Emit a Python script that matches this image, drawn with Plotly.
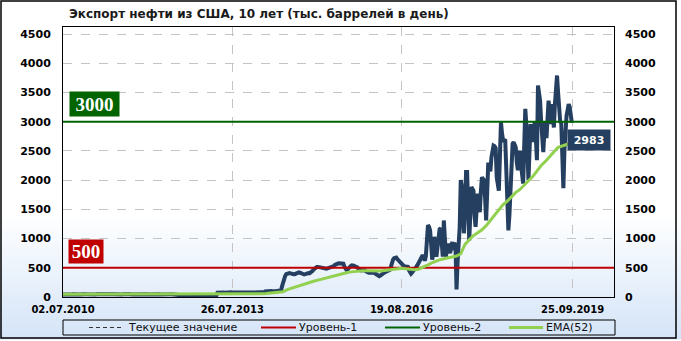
import pandas as pd
import plotly.graph_objects as go

# ---------------- data ----------------
start_date = "2010-07-02"
axis_end_date = "2020-06-25"

exports_2010 = [44, 46, 43, 47, 45, 42, 48, 46, 44, 45, 47, 43, 46, 49, 45, 44, 42, 46, 48, 45,
                43, 47, 46, 44, 45, 48, 46]
exports_2011 = [46, 44, 47, 45, 43, 49, 46, 45, 48, 44, 42, 46, 47, 45, 50, 46, 44, 43, 47, 48,
                45, 46, 44, 49, 47, 45, 43, 46, 48, 44, 45, 47, 46, 43, 45, 48, 50, 46, 44, 45,
                47, 43, 46, 49, 45, 44, 46, 48, 45, 43, 47, 46]
exports_2012 = [45, 48, 44, 46, 47, 43, 45, 49, 46, 44, 45, 47, 48, 44, 46, 45, 43, 47, 46, 48,
                45, 44, 46, 47, 45, 43, 48, 46, 44, 27, 24, 22, 26, 23, 21, 25, 28, 24, 22, 20,
                26, 27, 23, 22, 25, 24, 21, 26, 28, 23, 22, 24]
exports_2013 = [25, 27, 24, 22, 26, 23, 21, 25, 27, 24, 22, 25, 28, 23, 24, 75, 78, 80, 76, 79,
                82, 77, 74, 78, 81, 79, 76, 80, 83, 78, 75, 77, 80, 82, 79, 76, 78, 81, 77, 80,
                84, 79, 76, 78, 82, 80, 77, 79, 83, 78, 76, 80]
exports_2014 = [81, 78, 79, 82, 80, 77, 79, 81, 95, 98, 102, 100, 97, 103, 101, 99, 104, 100, 98, 102,
                105, 101, 99, 103, 180, 260, 320, 360, 390, 400, 405, 410, 405, 395, 385, 390, 390, 400, 410, 420,
                420, 415, 405, 395, 385, 385, 390, 400, 410, 410, 405, 415]
exports_2015 = [430, 450, 470, 490, 510, 515, 515, 510, 505, 500, 495, 490, 490, 490, 485, 490, 495, 495, 500, 505,
                515, 530, 550, 565, 575, 575, 578, 575, 572, 575, 570, 520, 480, 465, 470, 500, 520, 530, 540, 545,
                535, 525, 520, 510, 490, 465, 460, 455, 460, 465, 460, 445]
exports_2016 = [430, 420, 415, 415, 420, 425, 420, 415, 400, 385, 370, 360, 355, 365, 385, 400, 410, 420, 430, 440,
                450, 455, 465, 520, 600, 640, 665, 680, 675, 650, 630, 625, 600, 575, 545, 520, 515, 520, 525, 515,
                460, 410, 400, 420, 440, 460, 490, 515, 545, 580, 600, 650, 700]
exports_2017 = [715, 680, 620, 700, 900, 1230, 1200, 1140, 900, 640, 750, 1030, 900, 690, 850, 1140, 1160, 1175, 900, 690,
                1310, 1000, 690, 850, 915, 800, 750, 880, 940, 800, 915, 900, 130, 600, 850, 1200, 2000, 1900, 1700, 1090,
                1500, 2140, 2140, 1600, 970, 1400, 1880, 1850, 1820, 1400, 1200, 1500]
exports_2018 = [1770, 1600, 1450, 1800, 2050, 2020, 2000, 1700, 1310, 1800, 2300, 2200, 2150, 2390, 2500, 2590, 2580, 2550, 2050, 1900,
                1820, 2400, 2990, 2800, 2680, 2680, 2700, 2200, 1800, 1140, 1400, 1800, 2300, 2620, 2650, 2600, 2560, 2300, 2170, 2400,
                2500, 2250, 2100, 1940, 2600, 3220, 2950, 2400, 2000, 2500, 2960, 2800]
exports_2019 = [2650, 2850, 3000, 2700, 2340, 3620, 3450, 3360, 3000, 2680, 2480, 2800, 3000, 2720, 3000, 3360, 3200, 2960, 3300, 3100,
                2900, 3300, 3500, 3790, 3500, 3190, 3000, 2980, 2400, 1860, 2500, 2970, 3100, 3200, 3300, 3250, 3100, 2983]

# EMA(52) as drawn in the reference, read every 4th week
ema_52 = [45, 45, 44, 45, 46, 45, 45, 44, 45, 46, 45, 45, 44, 45, 46, 45, 45, 44, 45, 45,
          46, 45, 45, 44, 45, 45, 46,
          45, 45, 44, 45, 45, 44, 45, 45, 44, 45,
          46, 46, 47, 47, 48, 49, 50, 51, 52, 54,
          56, 60, 66, 72, 80, 90, 125, 150, 175, 200,
          225, 245, 265, 285, 305, 325, 340, 355, 375, 395,
          415, 430, 440, 445, 448, 450, 448, 445, 445, 455,
          465, 480, 490, 490, 485, 470, 465, 475, 505, 540,
          580, 610, 635, 655, 670, 685, 700, 740, 900, 980,
          1050, 1100, 1150, 1220, 1310, 1410, 1500, 1580, 1640, 1720,
          1790, 1840, 1920, 1990, 2060, 2160, 2250, 2320, 2410, 2480,
          2560, 2590, 2610, 2625]

level_1 = 500
level_2 = 3000
x_tick_labels = ["02.07.2010", "26.07.2013", "19.08.2016", "25.09.2019"]
y_ticks = [0, 500, 1000, 1500, 2000, 2500, 3000, 3500, 4000, 4500]
y_max = 4620

title_text = "Экспорт нефти из США, 10 лет (тыс. баррелей в день)"
legend_names = ["Текущее значение", "Уровень-1", "Уровень-2", "EMA(52)"]

# ---------------- colours / styles ----------------
c_value = "#243f60"
c_lvl1 = "#c00000"
c_lvl2 = "#006400"
c_ema = "#92d050"
grid_c = "#c4c4c4"

values = (exports_2010 + exports_2011 + exports_2012 + exports_2013 + exports_2014 +
          exports_2015 + exports_2016 + exports_2017 + exports_2018 + exports_2019)
dates = pd.date_range(start_date, periods=len(values), freq="7D")
ema_dates = dates[::4][:len(ema_52)]
tick_dates = pd.to_datetime(x_tick_labels, format="%d.%m.%Y")

W, H = 681, 341
PL, PR, PT, PB = 63, 614, 27, 297  # plot area in pixels


def fx(px):
    return (px - PL) / (PR - PL)


def fy(py):
    return (PB - py) / (PB - PT)


fig = go.Figure()

fig.add_trace(go.Scatter(x=dates, y=values, mode="lines",
                         line=dict(color=c_value, width=4), showlegend=False,
                         name=legend_names[0]))
fig.add_trace(go.Scatter(x=[start_date, axis_end_date], y=[level_1, level_1], mode="lines",
                         line=dict(color=c_lvl1, width=2), showlegend=False, name=legend_names[1]))
fig.add_trace(go.Scatter(x=[start_date, axis_end_date], y=[level_2, level_2], mode="lines",
                         line=dict(color=c_lvl2, width=2), showlegend=False, name=legend_names[2]))
fig.add_trace(go.Scatter(x=ema_dates, y=ema_52, mode="lines", yaxis="y2",
                         line=dict(color=c_ema, width=3), showlegend=False, name=legend_names[3]))

shapes = []
# background gradient (white -> light blue towards the bottom)
top_c = (255, 255, 255)
bot_c = (212, 228, 247)
g0, g1 = 215, 339
n = 40
for i in range(n):
    t = (i + 0.5) / n
    col = tuple(int(round(top_c[k] + (bot_c[k] - top_c[k]) * t)) for k in range(3))
    y_top = g0 + (g1 - g0) * i / n
    y_bot = g0 + (g1 - g0) * (i + 1) / n + 0.6
    shapes.append(dict(type="rect", xref="paper", yref="paper", layer="below",
                       x0=fx(0), x1=fx(W), y0=fy(y_bot), y1=fy(y_top),
                       line=dict(width=0), fillcolor="rgb(%d,%d,%d)" % col))
# outer frame
shapes.append(dict(type="rect", xref="paper", yref="paper", layer="above",
                   x0=fx(1), x1=fx(676), y0=fy(338), y1=fy(1),
                   line=dict(color="black", width=1.5)))
# legend box
shapes.append(dict(type="rect", xref="paper", yref="paper", layer="above",
                   x0=fx(63), x1=fx(615), y0=fy(335), y1=fy(320),
                   line=dict(color="black", width=1)))
leg_y = fy(327.5)
leg_items = [
    (89, 122, "#333333", 1, "4px,3px", 126),
    (261, 296, c_lvl1, 2, "solid", 297),
    (385, 420, c_lvl2, 2, "solid", 421),
    (509, 543, c_ema, 3, "solid", 544),
]
annotations = []
for (xa, xb, col, wd, dash, xt), name in zip(leg_items, legend_names):
    shapes.append(dict(type="line", xref="paper", yref="paper", layer="above",
                       x0=fx(xa), x1=fx(xb), y0=leg_y, y1=leg_y,
                       line=dict(color=col, width=wd, dash=dash)))
    annotations.append(dict(text=name, xref="paper", yref="paper", x=fx(xt), y=leg_y,
                            xanchor="left", yanchor="middle", showarrow=False,
                            font=dict(family="DejaVu Sans", size=11, color="#111111")))

# title
annotations.append(dict(text="<b>" + title_text + "</b>", xref="paper", yref="paper",
                        x=fx(67), y=fy(14), xanchor="left", yanchor="middle", showarrow=False,
                        font=dict(family="DejaVu Sans", size=12, color="#1a1a1a")))
# level labels
annotations.append(dict(text="<b>%d</b>" % level_2, xref="paper", yref="paper",
                        x=fx(94.5), y=fy(104), xanchor="center", yanchor="middle", showarrow=False,
                        bgcolor=c_lvl2, width=47, height=22, borderpad=1,
                        font=dict(family="Liberation Serif", size=19, color="white")))
annotations.append(dict(text="<b>%d</b>" % level_1, xref="paper", yref="paper",
                        x=fx(86), y=fy(251.5), xanchor="center", yanchor="middle", showarrow=False,
                        bgcolor=c_lvl1, width=32, height=21, borderpad=1,
                        font=dict(family="Liberation Serif", size=19, color="white")))
# current value label
annotations.append(dict(text="<b>%d</b>" % values[-1], xref="paper", yref="paper",
                        x=fx(589), y=fy(140), xanchor="center", yanchor="middle", showarrow=False,
                        bgcolor=c_value, width=40, height=18, borderpad=1,
                        font=dict(family="DejaVu Sans", size=11, color="white")))

tick_font = dict(family="DejaVu Sans", size=11, color="black", weight="bold")

fig.update_layout(
    width=W, height=H, autosize=False,
    margin=dict(l=PL, r=W - PR, t=PT, b=H - PB, pad=0),
    paper_bgcolor="white", plot_bgcolor="rgba(0,0,0,0)",
    showlegend=False,
    shapes=shapes, annotations=annotations,
    xaxis=dict(type="date", range=[start_date, axis_end_date],
               tickvals=tick_dates, ticktext=x_tick_labels,
               showgrid=True, gridcolor=grid_c, griddash="dash", gridwidth=1,
               showline=True, linecolor="black", linewidth=1, mirror=True,
               ticks="", ticklabelstandoff=3,
               tickfont=dict(family="DejaVu Sans", size=10, color="black", weight="bold"),
               zeroline=False),
    yaxis=dict(range=[0, y_max], tickvals=y_ticks,
               showgrid=True, gridcolor=grid_c, griddash="dash", gridwidth=1,
               showline=True, linecolor="black", linewidth=1, mirror=True,
               ticks="", ticklabelstandoff=9, tickfont=tick_font, zeroline=False),
    yaxis2=dict(range=[0, y_max], tickvals=y_ticks, overlaying="y", side="right",
                showgrid=False, showline=False, ticks="", ticklabelstandoff=10,
                tickfont=tick_font, zeroline=False),
)

fig.write_html("out.html")
